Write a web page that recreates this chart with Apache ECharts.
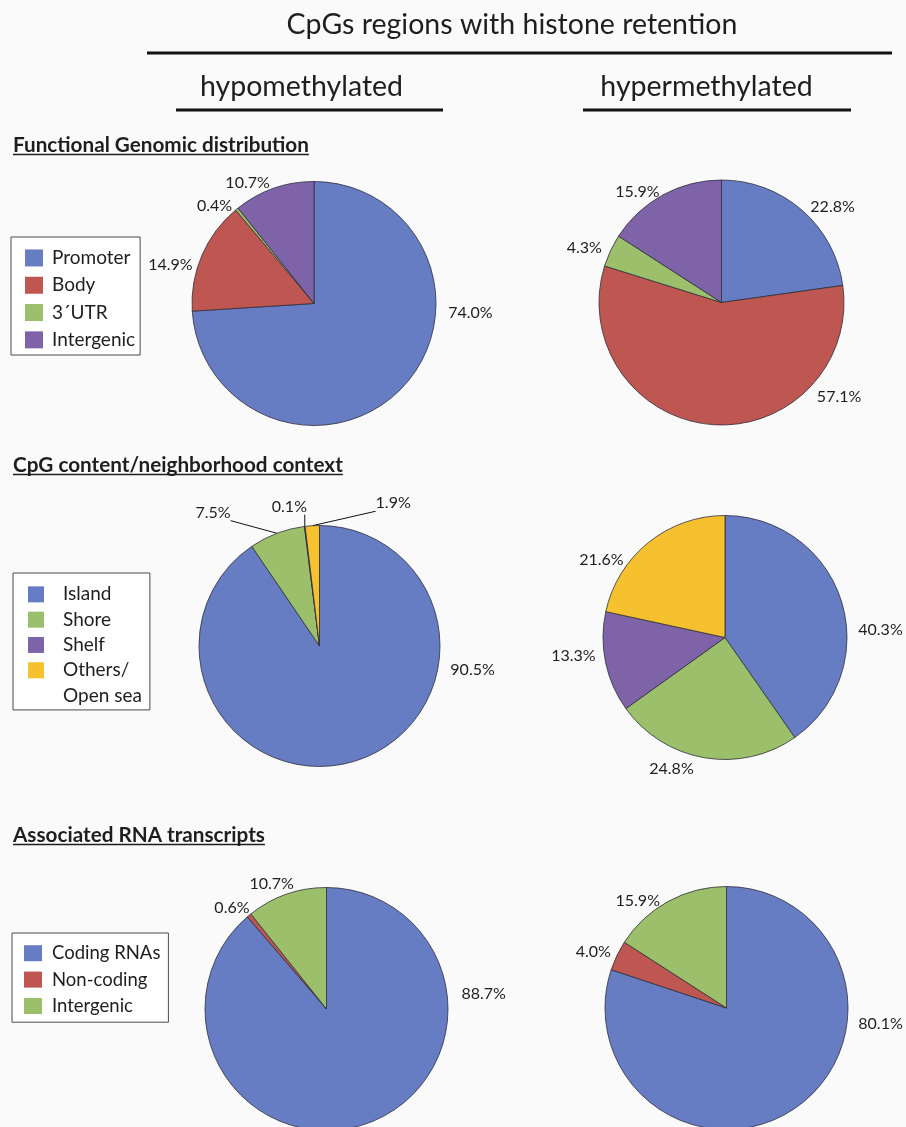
<!DOCTYPE html>
<html>
<head>
<meta charset="utf-8">
<script src="https://cdn.jsdelivr.net/npm/echarts@6/dist/echarts.min.js"></script>
<style>
  html, body { margin: 0; padding: 0; background: #FAFAFA; }
  #chart { width: 906px; height: 1127px; }
</style>
</head>
<body>
<div id="chart"></div>
<script>
// ---------- data ----------
const funcCats = ['Promoter', 'Body', '3\u00B4UTR', 'Intergenic'];
const funcHypo = [74.0, 14.9, 0.4, 10.7];
const funcHyper = [22.8, 57.1, 4.3, 15.9];

const cpgCats = ['Island', 'Shore', 'Shelf', 'Others/\nOpen sea'];
const cpgHypo = [90.5, 7.5, 0.1, 1.9];
const cpgHyper = [40.3, 24.8, 13.3, 21.6];

const rnaCats = ['Coding RNAs', 'Non-coding', 'Intergenic'];
const rnaHypo = [88.7, 0.6, 10.7];
const rnaHyper = [80.1, 4.0, 15.9];

const mainTitle = 'CpGs regions with histone retention';
const colTitles = ['hypomethylated', 'hypermethylated'];
const sectionTitles = ['Functional Genomic distribution', 'CpG content/neighborhood context', 'Associated RNA transcripts'];

// ---------- styles ----------
const BLUE = '#667DC4', RED = '#BE5651', GREEN = '#9BBF6A', PURPLE = '#7F63A8', YELLOW = '#F5C12F';
const funcColors = [BLUE, RED, GREEN, PURPLE];
const cpgColors = [BLUE, GREEN, PURPLE, YELLOW];
const rnaColors = [BLUE, RED, GREEN];
const TXT = '#1E1E1E';
const FONT = 'Lato';

// pie geometry (center, radius) and label anchors [angle deg clockwise from top, distance / radius]
const pies = [
  { cats: funcCats, vals: funcHypo,  colors: funcColors, c: [314, 303.5],   r: 122,   lbl: [[93.5,1.285],[285,1.218],[314.5,1.143],[331.2,1.13]], lines: false },
  { cats: funcCats, vals: funcHyper, colors: funcColors, c: [721.5, 302.5], r: 122.5, lbl: [[49.4,1.194],[128.7,1.23],[291.9,1.207],[322.8,1.136]], lines: false },
  { cats: cpgCats,  vals: cpgHypo,   colors: cpgColors,  c: [319.5, 646],   r: 120.5, lbl: [[98.7,1.285],[321.4,1.416],[347.8,1.183],[27.3,1.333]], lines: true },
  { cats: cpgCats,  vals: cpgHyper,  colors: cpgColors,  c: [725, 637.5],   r: 122,   lbl: [[87.2,1.276],[202.1,1.166],[263,1.252],[302.3,1.198]], lines: false },
  { cats: rnaCats,  vals: rnaHypo,   colors: rnaColors,  c: [326.5, 1009],  r: 121.5, lbl: [[84.5,1.30],[316.8,1.137],[336.4,1.128]], lines: false },
  { cats: rnaCats,  vals: rnaHyper,  colors: rnaColors,  c: [726.5, 1008],  r: 121.5, lbl: [[95.7,1.274],[292.9,1.19],[320.4,1.146]], lines: false }
];

function nearestOnRect(p, x0, y0, w, h) {
  return [Math.min(Math.max(p[0], x0), x0 + w), Math.min(Math.max(p[1], y0), y0 + h)];
}

const series = pies.map(function (pc) {
  return {
    type: 'pie',
    center: pc.c,
    radius: pc.r,
    startAngle: 90,
    clockwise: true,
    avoidLabelOverlap: false,
    animation: false,
    silent: true,
    emphasis: { disabled: true },
    itemStyle: { borderColor: '#2E2E3A', borderWidth: 0.8 },
    label: {
      show: true,
      position: 'outside',
      formatter: function (p) { return p.value.toFixed(1) + '%'; },
      fontFamily: FONT, fontSize: 16, color: TXT
    },
    labelLine: { show: pc.lines, length: 5, length2: 0, lineStyle: { color: '#111', width: 1 } },
    data: pc.cats.map(function (n, i) {
      const d = { name: n, value: pc.vals[i], itemStyle: { color: pc.colors[i] } };
      if (pc.lines && i === 0) d.labelLine = { show: false };
      return d;
    }),
    labelLayout: function (params) {
      const a = pc.lbl[params.dataIndex];
      const ang = a[0] * Math.PI / 180;
      const d = a[1] * pc.r;
      const x = pc.c[0] + d * Math.sin(ang);
      const y = pc.c[1] - d * Math.cos(ang);
      const out = { x: x, y: y, align: 'center', verticalAlign: 'middle' };
      if (pc.lines && params.labelLinePoints && params.dataIndex > 0) {
        const w = params.labelRect.width, h = params.labelRect.height;
        const p0 = params.labelLinePoints[0];
        out.labelLinePoints = [p0, nearestOnRect(p0, x - w / 2, y - h / 2, w, h)];
      }
      return out;
    }
  };
});

// ---------- text measuring ----------
const measureCtx = document.createElement('canvas').getContext('2d');
function textWidth(t, font) { measureCtx.font = font; return measureCtx.measureText(t).width; }

// ---------- legends ----------
function legendData(cats, colors) {
  return cats.map(function (n, i) { return { name: n, itemStyle: { color: colors[i] } }; });
}
const legendCommon = {
  orient: 'vertical', selectedMode: false, itemGap: 0,
  borderColor: '#4A4A4A', borderWidth: 1, borderRadius: 0,
  backgroundColor: '#FFFFFF',
  icon: 'rect',
  itemStyle: { borderWidth: 0 }
};
const L1 = 27.3, L2 = 25.3, L3 = 26.4;
const LEG2_FONT = '19px ' + FONT;
const LEG2_TEXT_X = 63;
const leg2Lines = cpgCats.map(function (n) { return n.split('\n'); });
const leg2FirstW = Math.max.apply(null, leg2Lines.map(function (l) { return textWidth(l[0], LEG2_FONT); }));
const leg2AllW = Math.max.apply(null, leg2Lines.map(function (l) {
  return Math.max.apply(null, l.map(function (s) { return textWidth(s, LEG2_FONT); }));
}));
const leg2PadRight = 8 + Math.max(0, leg2AllW - leg2FirstW);

const legends = [
  Object.assign({}, legendCommon, {
    left: 11, top: 237, padding: [7.3, 5, 1.5, 14],
    itemWidth: 18, itemHeight: 17,
    textStyle: { fontFamily: FONT, fontSize: 19, color: TXT, lineHeight: L1, padding: [0, 0, 0, 4] },
    data: legendData(funcCats, funcColors)
  }),
  Object.assign({}, legendCommon, {
    left: 13, top: 573, padding: [8.7, leg2PadRight, 27, 15],
    itemWidth: 16, itemHeight: 16,
    textStyle: { fontFamily: FONT, fontSize: 19, color: TXT, lineHeight: L2, padding: [0, 0, 0, 14] },
    // first line of a wrapped name sits next to its swatch; the continuation line is added below
    formatter: function (name) { return name.split('\n')[0]; },
    data: legendData(cpgCats, cpgColors)
  }),
  Object.assign({}, legendCommon, {
    left: 12, top: 933, padding: [7, 8, 3, 12],
    itemWidth: 18, itemHeight: 16,
    textStyle: { fontFamily: FONT, fontSize: 18.5, color: TXT, lineHeight: L3, padding: [0, 0, 0, 5] },
    data: legendData(rnaCats, rnaColors)
  })
];

// ---------- headings ----------
const HFONT = 'bold 20.7px ' + FONT;
const headerY = [145, 465, 835];
const graphics = [
  { type: 'text', x: 512, y: 25, style: { text: mainTitle, font: '28.5px ' + FONT, fill: TXT, align: 'center', verticalAlign: 'middle' } },
  { type: 'line', shape: { x1: 147, y1: 53, x2: 892, y2: 53 }, style: { stroke: '#111', lineWidth: 3 } },
  { type: 'text', x: 301.5, y: 87, style: { text: colTitles[0], font: '28.5px ' + FONT, fill: TXT, align: 'center', verticalAlign: 'middle' } },
  { type: 'line', shape: { x1: 176, y1: 110, x2: 443, y2: 110 }, style: { stroke: '#111', lineWidth: 3 } },
  { type: 'text', x: 706.5, y: 87, style: { text: colTitles[1], font: '28.5px ' + FONT, fill: TXT, align: 'center', verticalAlign: 'middle' } },
  { type: 'line', shape: { x1: 583, y1: 110, x2: 851, y2: 110 }, style: { stroke: '#111', lineWidth: 3 } },
  // continuation line of the wrapped legend entry "Others/ Open sea"
  { type: 'text', x: LEG2_TEXT_X, y: 695.7, z: 10, style: { text: leg2Lines[3][1], font: LEG2_FONT, fill: TXT, align: 'left', verticalAlign: 'middle' } }
];
sectionTitles.forEach(function (t, i) {
  const w = textWidth(t, HFONT);
  graphics.push({ type: 'text', x: 13, y: headerY[i], style: { text: t, font: HFONT, fill: TXT, align: 'left', verticalAlign: 'middle' } });
  graphics.push({ type: 'line', shape: { x1: 13, y1: headerY[i] + 9.5, x2: 13 + w, y2: headerY[i] + 9.5 }, style: { stroke: TXT, lineWidth: 1.7 } });
});

const chart = echarts.init(document.getElementById('chart'), null, { renderer: 'canvas' });
chart.setOption({
  backgroundColor: '#FAFAFA',
  animation: false,
  legend: legends,
  graphic: { elements: graphics },
  series: series
});
</script>
</body>
</html>
